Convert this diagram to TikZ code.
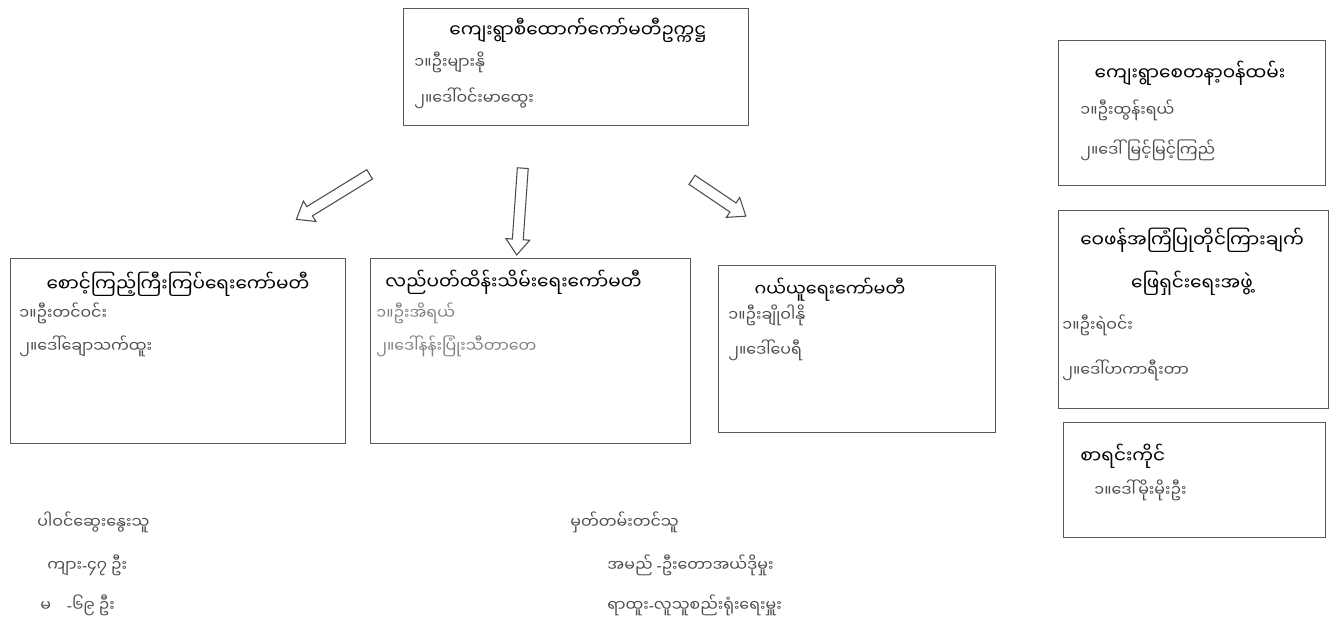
\documentclass[tikz,border=0pt]{standalone}
\usepackage{fontspec}
\newfontfamily\mmfont[Script=Myanmar]{Noto Sans Myanmar UI}
\newfontfamily\latfont{Noto Sans}
\newcommand\mmhy{{\latfont -}}
\usetikzlibrary{fit, shapes.arrows}

\begin{document}
\begin{tikzpicture}[x=0.02cm, y=-0.02cm, thick]
				\tikzstyle{panel}=[draw=black!65, line width=0.5pt, inner sep=0pt]
				\tikzstyle{head}=[font=\mmfont\fontsize{10.5}{13}\selectfont, text=black, inner sep=1pt]
				\tikzstyle{member}=[font=\mmfont\fontsize{9}{11}\selectfont, text=black!70, anchor=west, inner sep=1pt]
				\tikzstyle{blockarrow}=[single arrow, draw=black!70, line width=0.6pt, fill=white, inner sep=2.8pt, single arrow head extend=0.13cm, single arrow tip angle=75]
				
				\useasboundingbox (0,0) rectangle (1336,643);
				
				% boxes
				\node[panel, fit={(403,8) (748,125)}] (chair) {};
				\node[panel, fit={(10,258) (345,443)}] (watch) {};
				\node[panel, fit={(370,258) (690,443)}] (maint) {};
				\node[panel, fit={(718,265) (995,432)}] (fund) {};
				\node[panel, fit={(1058,40) (1325,185)}] (volun) {};
				\node[panel, fit={(1058,210) (1328,408)}] (compl) {};
				\node[panel, fit={(1063,422) (1325,537)}] (acct) {};
				
				% chairman
				\node[head] at (578,30) (chairT) {ကျေးရွာစီထောက်ကော်မတီဥက္ကဋ္ဌ};
				\node[member] at (412,62) (chairA) {၁။ဦးများနို};
				\node[member] at (412,98) (chairB) {၂။ဒေါ်ဝင်းမာထွေး};
				
				% committees
				\node[head] at (178,284) (watchT) {စောင့်ကြည့်ကြီးကြပ်ရေးကော်မတီ};
				\node[member] at (17,313) (watchA) {၁။ဦးတင်ဝင်း};
				\node[member] at (17,346) (watchB) {၂။ဒေါ်ချောသက်ထူး};
				
				\node[head, anchor=west] at (383,282) (maintT) {လည်ပတ်ထိန်းသိမ်းရေးကော်မတီ};
				\node[member, text=black!50] at (374,313) (maintA) {၁။ဦးအိရယ်};
				\node[member, text=black!50] at (374,346) (maintB) {၂။ဒေါ်နန်းပြုံးသီတာတေ};
				
				\node[head, font=\mmfont\fontsize{10}{12}\selectfont] at (830,290) (fundT) {ဂယ်ယူရေးကော်မတီ};
				\node[member] at (726,315) (fundA) {၁။ဦးချိုဝါနို};
				\node[member] at (726,350) (fundB) {၂။ဒေါ်ပေရီ};
				
				% right column
				\node[head] at (1190,73) (volunT) {ကျေးရွာစေတနာ့ဝန်ထမ်း};
				\node[member] at (1078,110) (volunA) {၁။ဦးထွန်းရယ်};
				\node[member] at (1078,150) (volunB) {၂။ဒေါ်မြင့်မြင့်ကြည်};
				
				\node[head] at (1192,240) (complT) {ဝေဖန်အကြံပြုတိုင်ကြားချက်};
				\node[head] at (1192,283) (complU) {ဖြေရှင်းရေးအဖွဲ့};
				\node[member] at (1060,325) (complA) {၁။ဦးရဲဝင်း};
				\node[member] at (1060,370) (complB) {၂။ဒေါ်ဟကာရီးတာ};
				
				\node[head, anchor=west] at (1078,456) (acctT) {စာရင်းကိုင်};
				\node[member] at (1092,490) (acctA) {၁။ဒေါ်မိုးမိုးဦး};
				
				% notes below
				\node[member] at (35,522) (partT) {ပါဝင်ဆွေးနွေးသူ};
				\node[member] at (45,565) (partM) {ကျား\mmhy၄၇ ဦး};
				\node[member] at (38,605) (partF) {မ\quad \mmhy၆၉ ဦး};
				
				\node[member] at (568,522) (noteT) {မှတ်တမ်းတင်သူ};
				\node[member] at (605,565) (noteN) {အမည် \mmhy ဦးတောအယ်ဒိုမှုး};
				\node[member] at (605,605) (noteR) {ရာထူး\mmhy လူသူစည်းရုံးရေးမှူး};
				
				% arrows
				\node[blockarrow, minimum height=1.72cm, rotate=211.6] at (336,195) (arrW) {};
				\node[blockarrow, minimum height=1.74cm, rotate=266] at (520,208) (arrS) {};
				\node[blockarrow, minimum height=1.3cm, rotate=-34] at (716,196) (arrE) {};
		  \end{tikzpicture}
\end{document}
